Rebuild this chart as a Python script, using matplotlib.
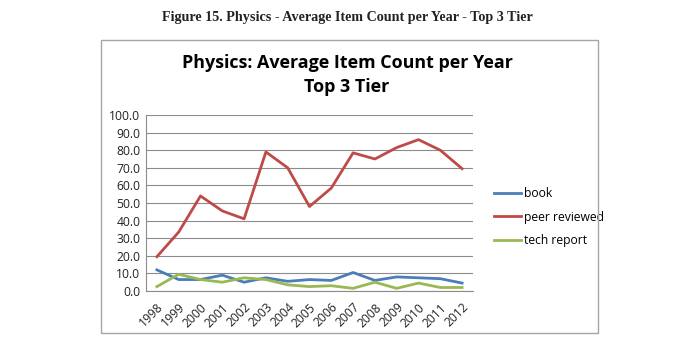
import matplotlib
matplotlib.use("Agg")
import matplotlib.pyplot as plt
from matplotlib.patches import Rectangle

years = ["1998", "1999", "2000", "2001", "2002", "2003", "2004", "2005",
         "2006", "2007", "2008", "2009", "2010", "2011", "2012"]
book = [12.0, 6.5, 6.5, 9.0, 5.0, 7.5, 5.5, 6.5, 6.0, 10.5, 6.0, 8.0, 7.5, 7.0, 4.5]
peer_reviewed = [19.5, 33.5, 54.0, 45.5, 41.0, 79.0, 70.0, 48.0, 58.5, 78.5,
                 75.0, 81.5, 86.0, 80.0, 69.5]
tech_report = [2.5, 9.5, 6.5, 5.0, 7.5, 6.5, 3.5, 2.5, 3.0, 1.5, 5.0, 1.5, 4.5, 2.0, 2.0]

W, H = 700, 361
fig = plt.figure(figsize=(7, 3.61), dpi=100)

# caption above the chart
fig.text(347 / W, 1 - 18 / H, "Figure 15. Physics - Average Item Count per Year - Top 3 Tier",
         ha="center", va="center", family="Liberation Serif", fontweight="bold",
         fontsize=10.2, color="#222222")

# chart frame
fig.patches.append(Rectangle((101 / W, 1 - 333 / H), (598 - 101) / W, (333 - 40) / H,
                             transform=fig.transFigure, fill=False,
                             edgecolor="#a6a6a6", linewidth=1.0))

fig.text(347 / W, 1 - 63 / H, "Physics: Average Item Count per Year",
         ha="center", va="center", family="Open Sans", fontweight="bold",
         fontsize=12.9, color="black")
fig.text(347 / W, 1 - 87 / H, "Top 3 Tier",
         ha="center", va="center", family="Open Sans", fontweight="bold",
         fontsize=12.9, color="black")

ax = fig.add_axes([146 / W, 1 - 291 / H, (473 - 146) / W, (291 - 115) / H])
x = range(len(years))
ax.plot(x, book, color="#4A7EBB", lw=2.0, label="book")
ax.plot(x, peer_reviewed, color="#BE4B48", lw=2.0, label="peer reviewed")
ax.plot(x, tech_report, color="#98B954", lw=2.0, label="tech report")

ax.set_xlim(-0.5, len(years) - 0.5)
ax.set_ylim(0, 100)
ax.set_yticks(range(0, 101, 10))
ax.set_yticklabels([f"{v:.1f}" for v in range(0, 101, 10)])
ax.set_xticks(list(x))
ax.set_xticklabels(years, rotation=45, ha="right", rotation_mode="anchor")
ax.yaxis.grid(True, color="#8c8c8c", lw=0.8)
ax.set_axisbelow(True)
for s in ["top", "right"]:
    ax.spines[s].set_visible(False)
for s in ["left", "bottom"]:
    ax.spines[s].set_color("#8c8c8c")
ax.tick_params(axis="y", length=0, labelsize=8.7, colors="#222222", pad=4)
ax.tick_params(axis="x", length=0, labelsize=8.7, colors="#222222", pad=7)
for lbl in ax.get_xticklabels() + ax.get_yticklabels():
    lbl.set_family("Open Sans")

leg = ax.legend(loc="center left", bbox_to_anchor=(1.03, 0.42), frameon=False,
                prop={"family": "Open Sans", "size": 8.7}, handlelength=2.3,
                handletextpad=0.2, labelspacing=0.85)

fig.savefig("out.png", dpi=100)
